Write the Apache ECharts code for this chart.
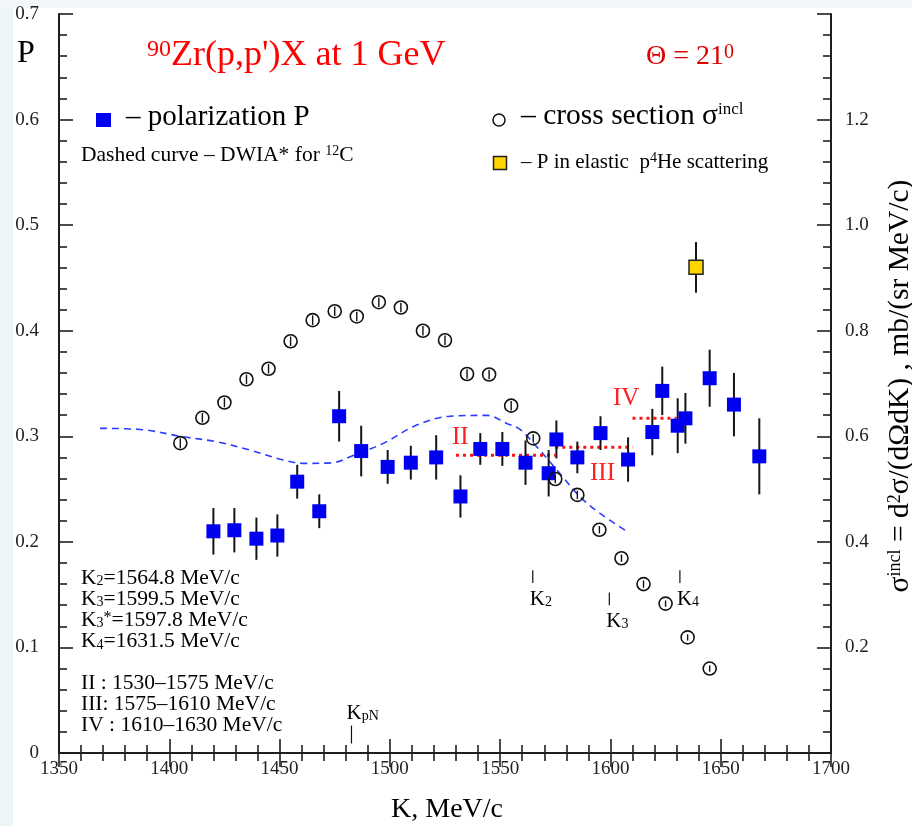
<!DOCTYPE html>
<html><head><meta charset="utf-8">
<script src="https://cdn.jsdelivr.net/npm/echarts@6/dist/echarts.min.js"></script>
<style>html,body{margin:0;padding:0;background:#fff}#c{width:912px;height:826px}</style>
</head><body><div id="c"></div>
<script>
// ---- data ----
const polK   = [1420, 1429.5, 1439.5, 1449, 1458, 1468, 1477, 1487, 1499, 1509.5, 1521, 1532, 1541, 1551, 1561.5, 1572, 1575.5, 1585, 1595.5, 1608, 1619, 1623.5, 1630.5, 1634, 1645, 1656, 1667.5];
const polP   = [0.210, 0.211, 0.203, 0.206, 0.257, 0.229, 0.319, 0.286, 0.271, 0.275, 0.280, 0.243, 0.288, 0.288, 0.275, 0.265, 0.297, 0.280, 0.303, 0.278, 0.304, 0.343, 0.310, 0.317, 0.355, 0.330, 0.281];
const polErr = [0.022, 0.021, 0.020, 0.020, 0.016, 0.016, 0.024, 0.024, 0.016, 0.016, 0.021, 0.020, 0.015, 0.016, 0.021, 0.022, 0.018, 0.015, 0.016, 0.021, 0.022, 0.023, 0.026, 0.024, 0.027, 0.030, 0.036];

const xsK     = [1405, 1415, 1425, 1435, 1445, 1455, 1465, 1475, 1485, 1495, 1505, 1515, 1525, 1535, 1545, 1555, 1565, 1575, 1585, 1595, 1605, 1615, 1625, 1635, 1645];
const xsSigma = [0.587, 0.635, 0.664, 0.708, 0.728, 0.780, 0.820, 0.837, 0.827, 0.854, 0.844, 0.800, 0.782, 0.718, 0.717, 0.658, 0.596, 0.519, 0.489, 0.423, 0.369, 0.320, 0.283, 0.219, 0.160];
const xsErr   = [0.009, 0.009, 0.009, 0.009, 0.009, 0.009, 0.009, 0.009, 0.009, 0.009, 0.009, 0.009, 0.009, 0.009, 0.009, 0.009, 0.008, 0.008, 0.008, 0.007, 0.007, 0.007, 0.006, 0.006, 0.006];

const heK = [1638.8];
const heP = [0.460];
const heErr = [0.024];

const dwiaK = [1368.6, 1386.7, 1406.4, 1421.5, 1436.6, 1451.7, 1460.8, 1474.4, 1482.0, 1497.0, 1512.2, 1527.3, 1543.9, 1553.0, 1559.0, 1566.6, 1577.1, 1586.2, 1595.3, 1606.6];
const dwiaP = [0.3075, 0.3065, 0.2995, 0.2948, 0.2869, 0.2775, 0.2743, 0.2750, 0.2806, 0.2933, 0.3106, 0.3190, 0.3198, 0.3122, 0.3065, 0.2900, 0.2648, 0.2427, 0.2269, 0.2111];

const regionNames = ['II', 'III', 'IV'];
const regionFrom  = [1530, 1575, 1610];
const regionTo    = [1575, 1610, 1630];
const regionP     = [0.282, 0.2895, 0.317];

const markerSub = ['pN', '2', '3', '4'];
const markerK   = [1482.6, 1564.8, 1599.5, 1631.5];
const markerLo  = [0.009, 0.161, 0.140, 0.161];
const markerHi  = [0.026, 0.173, 0.152, 0.173];

const xMin = 1350, xMax = 1700, xStep = 50;
const pMin = 0, pMax = 0.7, pStep = 0.1;
const sMin = 0, sMax = 1.4, sStep = 0.2;

const infoLines = ['K|2|=1564.8 MeV/c', 'K|3|=1599.5 MeV/c', 'K|3*|=1597.8 MeV/c', 'K|4|=1631.5 MeV/c'];
const rangeLines = ['II : 1530\u20131575 MeV/c', 'III: 1575\u20131610 MeV/c', 'IV : 1610\u20131630 MeV/c'];

// ---- chart ----
const SERIF = "'Liberation Serif','DejaVu Serif',serif";
const AX = '#1e1e1e';
const chart = echarts.init(document.getElementById('c'), null, {renderer: 'canvas'});

function axisCommon() {
  return {
    axisLine: {show: true, lineStyle: {color: AX, width: 2}},
    axisTick: {show: true, inside: true, length: 14, lineStyle: {color: AX, width: 1.6}},
    minorTick: {show: true, splitNumber: 5, length: 8, lineStyle: {color: AX, width: 1.6}},
    splitLine: {show: false},
    minorSplitLine: {show: false}
  };
}

const polData = polK.map((k, i) => [k, polP[i], polErr[i]]);
const xsData = xsK.map((k, i) => [k, xsSigma[i], xsErr[i]]);
const heData = heK.map((k, i) => [k, heP[i], heErr[i]]);
const dwiaData = dwiaK.map((k, i) => [k, dwiaP[i]]);
const markerData = markerK.map((k, i) => [k, markerLo[i], markerHi[i], i]);

const regionSeries = regionNames.map((n, i) => ({
  type: 'line', name: 'region ' + n, xAxisIndex: 0, yAxisIndex: 0,
  data: [[regionFrom[i], regionP[i]], [regionTo[i], regionP[i]]],
  symbol: 'none', silent: true, z: 3,
  lineStyle: {color: '#ff1010', width: 3, type: [3, 4], cap: 'butt'}
}));

function textEl(x, y, text, rich, extra) {
  return Object.assign({
    type: 'text', x: x, y: y, z: 20,
    style: {text: text, rich: rich, align: 'left', verticalAlign: 'middle', fill: '#000', font: '20px ' + SERIF}
  }, extra || {});
}
function rs(size, color, lh, va) {
  const o = {fontSize: size, fontFamily: SERIF, fill: color};
  if (lh != null) o.lineHeight = lh;
  if (va) o.verticalAlign = va;
  return o;
}

const graphics = [
  {type: 'rect', x: 0, y: 0, z: -10, shape: {width: 13, height: 826}, style: {fill: '#edf5f7'}},
  {type: 'rect', x: 0, y: 0, z: -10, shape: {width: 912, height: 8}, style: {fill: '#f1f7f9'}},
  textEl(17, 54, '{n|P}', {n: rs(32, '#000', 32)}),
  textEl(147, 56, '{s|90}{n|Zr(p,p\')X at 1 GeV}', {n: rs(36, '#ff0000', 36), s: rs(24, '#ff0000', 23, 'top')}),
  textEl(646, 57, '{n|\u0398 = 21}{s|0}', {n: rs(28, '#e00000', 28), s: rs(20, '#e00000', 14, 'top')}),
  {type: 'rect', x: 96, y: 113, z: 20, shape: {width: 15, height: 14}, style: {fill: '#0000f0'}},
  textEl(126, 117, '{n|\u2013 polarization P}', {n: rs(29, '#000', 29)}),
  textEl(81, 155, '{n|Dashed curve \u2013 DWIA* for }{s|12}{n|C}', {n: rs(21.5, '#000', 21), s: rs(14, '#000', 13, 'top')}),
  {type: 'circle', x: 499, y: 120, z: 20, shape: {r: 6}, style: {fill: 'none', stroke: '#111', lineWidth: 1.5}},
  textEl(521, 116, '{n|\u2013 cross section \u03c3}{s|incl}', {n: rs(29.5, '#000', 29), s: rs(17, '#000', 6, 'top')}),
  {type: 'rect', x: 493.5, y: 156.5, z: 20, shape: {width: 13, height: 13}, style: {fill: '#ffd400', stroke: '#222', lineWidth: 1.5}},
  textEl(521, 162, '{n|\u2013 P in elastic  p}{s|4}{n|He scattering}', {n: rs(21, '#000', 21), s: rs(14, '#000', 4, 'top')}),
  textEl(452, 437, '{n|II}', {n: rs(25, '#ff2020', 25)}),
  textEl(590, 473, '{n|III}', {n: rs(25, '#ff2020', 25)}),
  textEl(613, 398, '{n|IV}', {n: rs(25, '#ff2020', 25)}),
  {type: 'text', x: 447, y: 810, z: 20,
   style: {text: '{n|K, MeV/c}', rich: {n: rs(28, '#000', 28)}, align: 'center', verticalAlign: 'middle'}},
  {type: 'text', x: 900, y: 386, rotation: Math.PI / 2, z: 20,
   style: {text: '{n|\u03c3}{s|incl}{n| = d}{s|2}{n|\u03c3/(d\u03a9dK) , mb/(sr MeV/c)}',
     rich: {n: rs(29.5, '#000', 28), s: rs(18, '#000', 8, 'top')}, align: 'center', verticalAlign: 'middle'}}
];
const infoY = [578, 599, 620, 641.5];
infoLines.forEach((ln, i) => {
  const parts = ln.split('|');
  const sub = parts[1].replace('*', '');
  const star = parts[1].indexOf('*') >= 0 ? '{t|*}' : '';
  graphics.push(textEl(81, infoY[i], '{n|' + parts[0] + '}{b|' + sub + '}' + star + '{n|' + parts[2] + '}',
    {n: rs(21.5, '#000', 21), b: rs(14, '#000', 8, 'bottom'), t: rs(16, '#000', 8, 'top')}));
});
const rangeY = [683.5, 704, 725];
rangeLines.forEach((ln, i) => {
  graphics.push(textEl(81, rangeY[i], '{n|' + ln + '}', {n: rs(21.5, '#000', 21)}));
});

const option = {
  animation: false,
  backgroundColor: '#ffffff',
  grid: {left: 59, top: 14, width: 772, height: 739, containLabel: false},
  xAxis: [
    Object.assign({type: 'value', position: 'bottom', min: xMin, max: xMax, interval: xStep,
      axisLabel: {show: true, margin: 7, color: '#222', fontSize: 19, fontFamily: SERIF,
        formatter: v => String(Math.round(v))}}, axisCommon()),
    Object.assign({type: 'value', position: 'top', min: xMin, max: xMax, interval: xStep,
      axisLabel: {show: false}}, axisCommon())
  ],
  yAxis: [
    Object.assign({type: 'value', position: 'left', min: pMin, max: pMax, interval: pStep,
      axisLabel: {show: true, margin: 20, color: '#222', fontSize: 19, fontFamily: SERIF,
        formatter: v => (Math.abs(v) < 1e-9 ? '0' : v.toFixed(1))}}, axisCommon()),
    Object.assign({type: 'value', position: 'right', min: sMin, max: sMax, interval: sStep,
      axisLabel: {show: true, margin: 14, color: '#222', fontSize: 19, fontFamily: SERIF,
        formatter: v => (v > 0.01 && v < sMax - 0.01 ? v.toFixed(1) : '')}}, axisCommon())
  ],
  series: [
    {type: 'line', name: 'DWIA', xAxisIndex: 0, yAxisIndex: 0, data: dwiaData, smooth: 0.35, symbol: 'none', z: 2,
     lineStyle: {color: '#2a3cff', width: 1.6, type: [7, 5]}},
    ...regionSeries,
    {type: 'custom', name: 'polarization', xAxisIndex: 0, yAxisIndex: 0, data: polData, z: 5,
     renderItem: (params, api) => {
       const k = api.value(0), p = api.value(1), e = api.value(2);
       const c = api.coord([k, p]), t = api.coord([k, p + e]), b = api.coord([k, p - e]);
       return {type: 'group', children: [
         {type: 'line', shape: {x1: c[0], y1: t[1], x2: c[0], y2: b[1]}, style: {stroke: '#151515', lineWidth: 2}},
         {type: 'rect', shape: {x: c[0] - 7, y: c[1] - 7, width: 14, height: 14}, style: {fill: '#0000f0'}}
       ]};
     }},
    {type: 'custom', name: 'cross section', xAxisIndex: 0, yAxisIndex: 1, data: xsData, z: 6,
     renderItem: (params, api) => {
       const k = api.value(0), s = api.value(1), e = api.value(2);
       const c = api.coord([k, s]), t = api.coord([k, s + e]), b = api.coord([k, s - e]);
       return {type: 'group', children: [
         {type: 'circle', shape: {cx: c[0], cy: c[1], r: 6.5}, style: {fill: 'none', stroke: '#111', lineWidth: 1.6}},
         {type: 'line', shape: {x1: c[0], y1: t[1], x2: c[0], y2: b[1]}, style: {stroke: '#111', lineWidth: 1.4}}
       ]};
     }},
    {type: 'custom', name: 'p4He', xAxisIndex: 0, yAxisIndex: 0, data: heData, z: 7,
     renderItem: (params, api) => {
       const k = api.value(0), p = api.value(1), e = api.value(2);
       const c = api.coord([k, p]), t = api.coord([k, p + e]), b = api.coord([k, p - e]);
       return {type: 'group', children: [
         {type: 'line', shape: {x1: c[0], y1: t[1], x2: c[0], y2: b[1]}, style: {stroke: '#151515', lineWidth: 2}},
         {type: 'rect', shape: {x: c[0] - 7, y: c[1] - 7, width: 14, height: 14}, style: {fill: '#ffd400', stroke: '#222', lineWidth: 1.5}}
       ]};
     }},
    {type: 'custom', name: 'markers', xAxisIndex: 0, yAxisIndex: 0, data: markerData, z: 8,
     renderItem: (params, api) => {
       const k = api.value(0), lo = api.value(1), hi = api.value(2), idx = api.value(3);
       const t = api.coord([k, hi]), b = api.coord([k, lo]);
       const above = lo < 0.05;
       const sub = markerSub[idx];
       return {type: 'group', children: [
         {type: 'line', shape: {x1: t[0], y1: t[1], x2: b[0], y2: b[1]}, style: {stroke: '#111', lineWidth: 1.2}},
         {type: 'text', x: t[0] - (above ? 5 : 3), y: above ? t[1] - 12 : b[1] + 16,
          style: {text: '{n|K}{b|' + sub + '}', align: 'left', verticalAlign: 'middle',
            rich: {n: rs(21, '#000', 20), b: rs(14, '#000', 8, 'bottom')}}}
       ]};
     }}
  ],
  graphic: graphics
};
chart.setOption(option);
</script>
</body></html>
